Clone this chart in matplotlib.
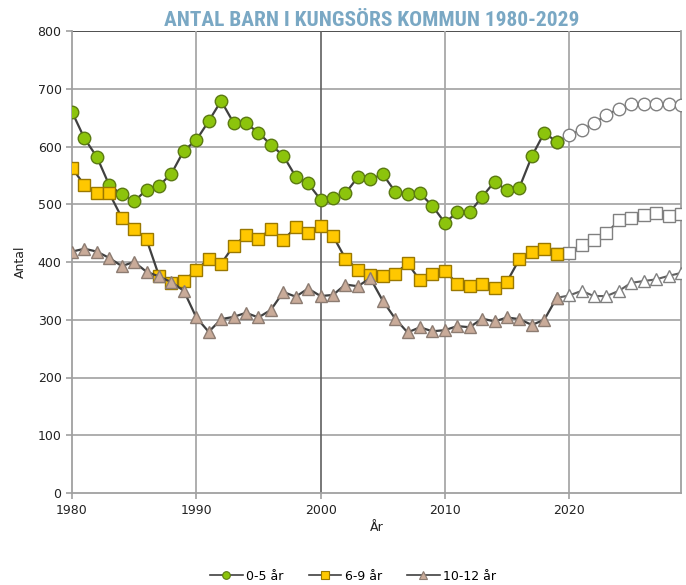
import matplotlib
matplotlib.use("Agg")
import matplotlib.pyplot as plt
from matplotlib import font_manager as fm

years = list(range(1980, 2020))
proj_years = list(range(2019, 2030))

age_0_5 = [660, 614, 582, 533, 517, 505, 525, 532, 553, 593,
           611, 644, 679, 641, 640, 624, 603, 584, 548, 536,
           508, 510, 519, 547, 543, 552, 522, 518, 519, 497,
           468, 486, 486, 513, 539, 524, 529, 583, 624, 608]
age_6_9 = [563, 533, 520, 519, 477, 458, 439, 376, 363, 367,
           386, 405, 397, 428, 446, 440, 457, 438, 460, 451,
           463, 445, 406, 387, 377, 375, 379, 398, 368, 379,
           385, 362, 358, 362, 355, 366, 405, 417, 422, 413]
age_10_12 = [418, 423, 418, 407, 393, 400, 383, 375, 365, 350,
             304, 279, 301, 305, 312, 304, 317, 348, 340, 354,
             341, 343, 361, 358, 372, 333, 302, 278, 287, 280,
             282, 289, 287, 302, 297, 304, 301, 291, 300, 338]

proj_0_5 = [608, 620, 629, 640, 655, 665, 673, 674, 674, 673, 672]
proj_6_9 = [413, 416, 429, 438, 450, 472, 476, 481, 485, 480, 483]
proj_10_12 = [338, 342, 350, 341, 341, 350, 364, 367, 370, 376, 381]

labels = ["0-5 år", "6-9 år", "10-12 år"]
title = "ANTAL BARN I KUNGSÖRS KOMMUN 1980-2029"

avail = {f.name for f in fm.fontManager.ttflist}
title_font = "DejaVu Sans"
for cand in ["Liberation Sans Narrow", "DejaVu Sans Condensed", "Roboto Condensed", "Open Sans Condensed"]:
    if cand in avail:
        title_font = cand
        break

plt.rcParams['font.family'] = ['DejaVu Sans']

fig = plt.figure(figsize=(6.86, 5.85), dpi=100)
ax = fig.add_axes([72/686, 1-493/585, (681-72)/686, (493-31)/585])

line_col = '#404040'
proj_line = '#606060'

styles = [
    dict(marker='o', mfc='#8cc40c', mec='#5b7a12', ms=9),
    dict(marker='s', mfc='#ffc800', mec='#9a7800', ms=8.5),
    dict(marker='^', mfc='#c9ab99', mec='#8c7c72', ms=9),
]
hist = [age_0_5, age_6_9, age_10_12]
proj = [proj_0_5, proj_6_9, proj_10_12]

for h, p, st in zip(hist, proj, styles):
    ax.plot(proj_years, p, color=proj_line, lw=1.5, marker=st['marker'],
            mfc='white', mec='#808080', ms=st['ms'], mew=1.0, zorder=3)
    ax.plot(years, h, color=line_col, lw=1.6, marker=st['marker'],
            mfc=st['mfc'], mec=st['mec'], ms=st['ms'], mew=1.0, zorder=4)

handles = []
for lab, st in zip(labels, styles):
    hd, = ax.plot([], [], color=line_col, lw=1.2, marker=st['marker'],
                  mfc=st['mfc'], mec=st['mec'], ms=5.5, mew=0.8, label=lab)
    handles.append(hd)

ax.set_xlim(1980, 2029)
ax.set_ylim(0, 800)
ax.set_xticks([1980, 1990, 2000, 2010, 2020])
ax.set_yticks(range(0, 801, 100))

for v in range(100, 800, 100):
    ax.axhline(v, color='#a8a8a8', lw=1.3, zorder=1)
ax.axhline(800, color='#303030', lw=1.2, zorder=1)
for x in [1990, 2010, 2020]:
    ax.axvline(x, color='#a8a8a8', lw=1.3, zorder=1)
ax.axvline(2000, color='#606060', lw=1.2, zorder=1)

ax.spines['top'].set_visible(False)
for s in ['left', 'bottom', 'right']:
    ax.spines[s].set_color('#a0a0a0')
    ax.spines[s].set_linewidth(1.3)

ax.tick_params(axis='both', colors='#a0a0a0', labelcolor='#222222',
               labelsize=9, length=4, width=1.2)
ax.tick_params(axis='x', pad=4)

ax.set_xlabel("År", fontsize=9, color='#222222', labelpad=3)
ax.set_ylabel("Antal", fontsize=9, color='#222222', labelpad=8)

fig.text(372/686, 1-20/585, title, ha='center', va='center',
         fontsize=15.4, color='#7aa8c4', family=title_font, fontweight='bold')

fig.legend(handles=handles, labels=labels, loc='center', ncol=3,
           bbox_to_anchor=(0.515, 1-576/585), frameon=False, fontsize=9,
           handlelength=2.6, columnspacing=2.0, handletextpad=0.3)

fig.savefig("out.png", dpi=100)
